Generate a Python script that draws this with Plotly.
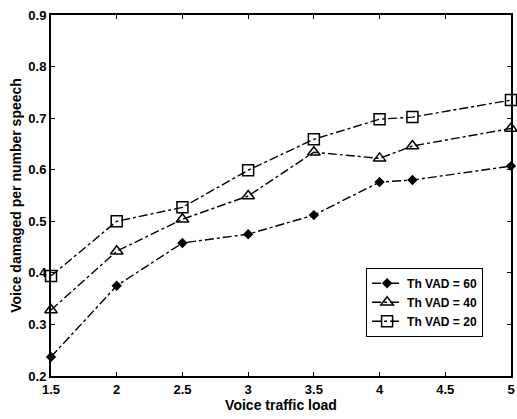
import plotly.graph_objects as go

load = [1.5, 2, 2.5, 3, 3.5, 4, 4.25, 5]
vad60 = [0.237, 0.375, 0.458, 0.475, 0.512, 0.576, 0.580, 0.607]
vad40 = [0.328, 0.442, 0.504, 0.549, 0.634, 0.622, 0.646, 0.680]
vad20 = [0.394, 0.500, 0.527, 0.599, 0.659, 0.698, 0.702, 0.735]
names = ["Th VAD = 60", "Th VAD = 40", "Th VAD = 20"]
x_ticks = [1.5, 2, 2.5, 3, 3.5, 4, 4.5, 5]
y_ticks = [0.2, 0.3, 0.4, 0.5, 0.6, 0.7, 0.8, 0.9]

fig = go.Figure()
styles = [
    dict(symbol="diamond", size=8, color="black"),
    dict(symbol="triangle-up-open", size=11, color="black", line=dict(width=1.5, color="black")),
    dict(symbol="square-open", size=11, color="black", line=dict(width=1.5, color="black")),
]
for name, ys, mk in zip(names, [vad60, vad40, vad20], styles):
    fig.add_trace(go.Scatter(
        x=load, y=ys, name=name, mode="lines+markers",
        line=dict(color="black", width=1.4, dash="dashdot"),
        marker=mk, cliponaxis=False,
    ))

fam = "Liberation Sans, Arial, sans-serif"
font_bold = dict(family=fam, size=13, color="black", weight="bold")

fig.update_layout(
    width=517, height=419,
    margin=dict(l=51, r=2, t=15, b=43),
    paper_bgcolor="white", plot_bgcolor="white",
    showlegend=True,
    legend=dict(
        x=0.685, y=0.30, xanchor="left", yanchor="top",
        bordercolor="black", borderwidth=1, bgcolor="white",
        font=dict(family=fam, size=12, color="black", weight="bold"),
        tracegroupgap=0, itemwidth=30,
    ),
    xaxis=dict(
        range=[1.5, 5], tickvals=x_ticks, ticktext=[str(v) for v in x_ticks],
        showgrid=False, zeroline=False, showline=True, linecolor="black", linewidth=2,
        mirror="ticks", ticks="inside", ticklen=4, tickcolor="black",
        tickfont=font_bold, ticklabeloverflow="allow",
        title=dict(text="Voice traffic load", font=dict(family=fam, size=14, color="black", weight="bold"), standoff=0),
    ),
    yaxis=dict(
        range=[0.2, 0.9], tickvals=y_ticks, ticktext=[f"{v:.1f}" for v in y_ticks],
        showgrid=False, zeroline=False, showline=True, linecolor="black", linewidth=2,
        mirror="ticks", ticks="inside", ticklen=4, tickcolor="black",
        tickfont=font_bold, ticklabeloverflow="allow",
        title=dict(text="Voice damaged per number speech", font=dict(family=fam, size=14, color="black", weight="bold"), standoff=3),
    ),
)

fig.write_html("out.html", config={"displayModeBar": False},
               post_script="document.body.style.margin='0';")
